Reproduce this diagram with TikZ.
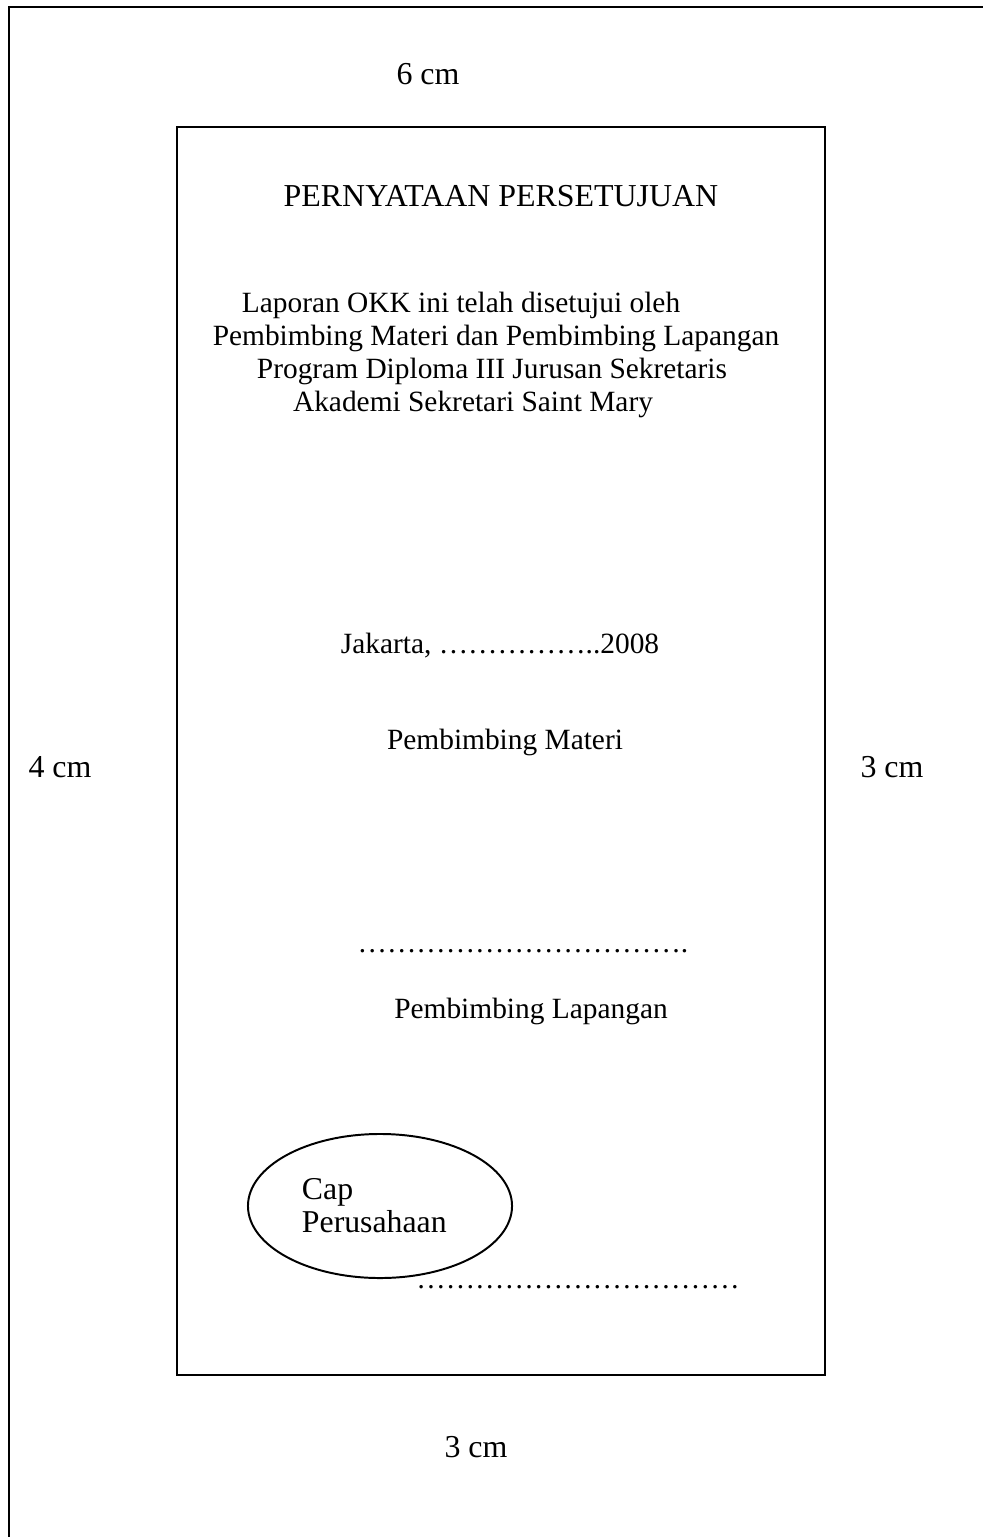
\documentclass[tikz,border=0pt]{standalone}
\usepackage{fontspec}
\setmainfont{Liberation Serif}
\usepackage{tikz}
\usetikzlibrary{shapes}
\newcommand{\barisTitik}[1]{\foreach \n in {1,...,#1}{…}}% deretan titik
\tikzset{
	teks/.style = {align=center, inner sep=0pt, anchor=base,
		font=\fontsize{20.9}{24}\selectfont},
	hal_judul/.style = {teks, font=\fontsize{22.7}{26}\selectfont},% judul halaman
	hal_ukur/.style = {teks, font=\fontsize{22.7}{26}\selectfont},% ukuran margin
	hal_cap/.style = {ellipse, draw=black, line width=1.4pt, align=left,
		inner sep=0pt, minimum width=6.6cm, minimum height=3.6cm,
		text width=3.9cm, font=\fontsize{22.6}{23.5}\selectfont}% cap perusahaan
}

\begin{document}
\begin{tikzpicture}[x=0.025cm, y=-0.025cm]
		\useasboundingbox (0,0) rectangle (982,1537);
		% kertas dan margin
		\draw[line width=2.1pt] (9,1560) -- (9,7) -- (1000,7);
		\draw[line width=1.4pt] (177,127) rectangle (825,1375);
		\node [hal_ukur] (atas) at (428,85) {6 cm};
		\node [hal_ukur] (kiri) at (60,777) {4 cm};
		\node [hal_ukur] (kanan) at (892,777) {3 cm};
		\node [hal_ukur] (bawah) at (476,1457) {3 cm};
		% isi halaman
		\node [hal_judul] (judul) at (501,206) {PERNYATAAN PERSETUJUAN};
		\node [teks] (baris1) at (461,312) {Laporan OKK ini telah disetujui oleh};
		\node [teks] (baris2) at (496,345) {Pembimbing Materi dan Pembimbing Lapangan};
		\node [teks] (baris3) at (492,378) {Program Diploma III Jurusan Sekretaris};
		\node [teks] (baris4) at (473,411) {Akademi Sekretari Saint Mary};
		\node [teks] (tanggal) at (500,653) {Jakarta, \barisTitik{5}..2008};
		\node [teks] (materi) at (505,749) {Pembimbing Materi};
		\node [teks] (ttd1) at (523,952) {\barisTitik{11}.};
		\node [teks] (lapangan) at (531,1018) {Pembimbing Lapangan};
		\node [hal_cap] (cap) at (380,1206) {Cap\\Perusahaan};
		\node [teks] (ttd2) at (578,1288) {\barisTitik{11}};
\end{tikzpicture}
\end{document}
